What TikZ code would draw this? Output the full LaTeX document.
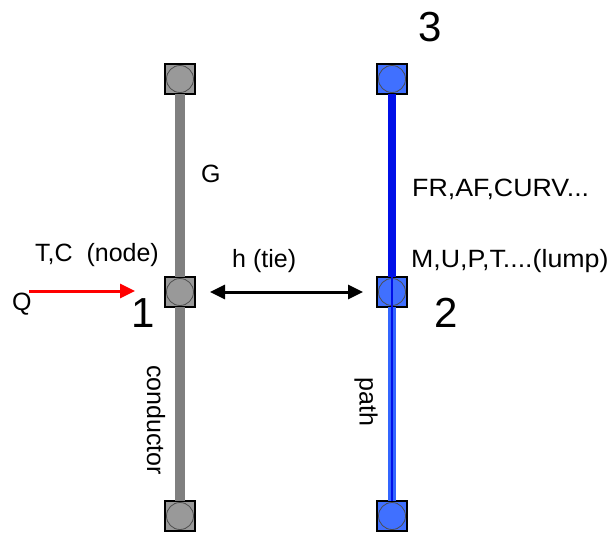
\documentclass[tikz,border=0pt]{standalone}
\usepackage{fontspec}
\setmainfont{Liberation Sans}
\usetikzlibrary{arrows.meta}
\definecolor{condgray}{HTML}{808080}
\definecolor{boxgray}{HTML}{999999}
\definecolor{pathdark}{HTML}{0010E8}
\definecolor{pathlight}{HTML}{3366FF}
\definecolor{boxblue}{HTML}{4070FF}
\tikzset{
  sqbox/.style={draw=black, line width=2pt, minimum size=30pt, inner sep=0pt, outer sep=0pt, fill=#1},
  lbl/.style={inner sep=0pt, anchor=base west, font=\fontsize{25}{28}\selectfont},
  widelbl/.style={inner sep=0pt, anchor=base west, font=\fontsize{25}{28}\selectfont, xscale=1.07},
  bignum/.style={inner sep=0pt, anchor=base west, font=\fontsize{42}{46}\selectfont},
  rotlbl/.style={inner sep=0pt, rotate=-90, font=\fontsize{25}{28}\selectfont},
}
\newcommand{\inring}[2]{\fill[#2] (#1) circle (13.5pt); \draw[black!70, line width=0.8pt] (#1) circle (13.5pt);}
\begin{document}
\begin{tikzpicture}[x=1pt,y=-1pt]
\useasboundingbox (0,0) rectangle (614,533);
% squares
\node[sqbox=boxgray] (gtop) at (180,79) {};
\node[sqbox=boxgray] (gmid) at (180,292) {};
\node[sqbox=boxgray] (gbot) at (180,516) {};
\node[sqbox=boxblue] (btop) at (392,79) {};
\node[sqbox=boxblue] (bmid) at (392,292) {};
\node[sqbox=boxblue] (bbot) at (392,516) {};
\inring{gtop}{boxgray}\inring{gmid}{boxgray}\inring{gbot}{boxgray}
\inring{btop}{boxblue}\inring{bmid}{boxblue}\inring{bbot}{boxblue}
% conductor line
\draw[condgray, line width=10pt] (gtop.south) -- (gmid.north);
\draw[condgray, line width=10pt] (gmid.south) -- (gbot.north);
% path lines
\draw[pathdark, line width=8pt] (btop.south) -- (bmid.north);
\draw[pathlight, line width=8pt] (bmid.south) -- (bbot.north);
\draw[pathdark, line width=2.5pt] (bmid.south) -- (bbot.north);
\draw[pathdark, line width=2.5pt] (bmid.north) -- (bmid.south);
% tie arrow
\draw[black, line width=3pt, {Triangle[length=15pt,width=14pt]}-{Triangle[length=15pt,width=14pt]}, shorten <=15pt, shorten >=14pt] (gmid.east) -- (bmid.west);
% heat input
\coordinate (qstart) at (29,291);
\draw[red, line width=3pt, -{Triangle[length=15pt,width=14pt]}, shorten >=30pt] (qstart) -- (gmid.west |- qstart);
% labels
\node[lbl] (tc) at (35,261) {T,C\ \ (node)};
\node[lbl] (q) at (12,310) {Q};
\node[bignum] (n1) at (131,327) {1};
\node[lbl] (g) at (201,182) {G};
\node[lbl] (h) at (232,267) {h (tie)};
\node[widelbl] (mu) at (411,267) {M,U,P,T....(lump)};
\node[widelbl] (fr) at (412,196) {FR,AF,CURV...};
\node[bignum] (n2) at (434,327) {2};
\node[bignum] (n3) at (418,41) {3};
\node[rotlbl] (cond) at (156,420) {conductor};
\node[rotlbl] (path) at (366,402) {path};
\end{tikzpicture}
\end{document}
